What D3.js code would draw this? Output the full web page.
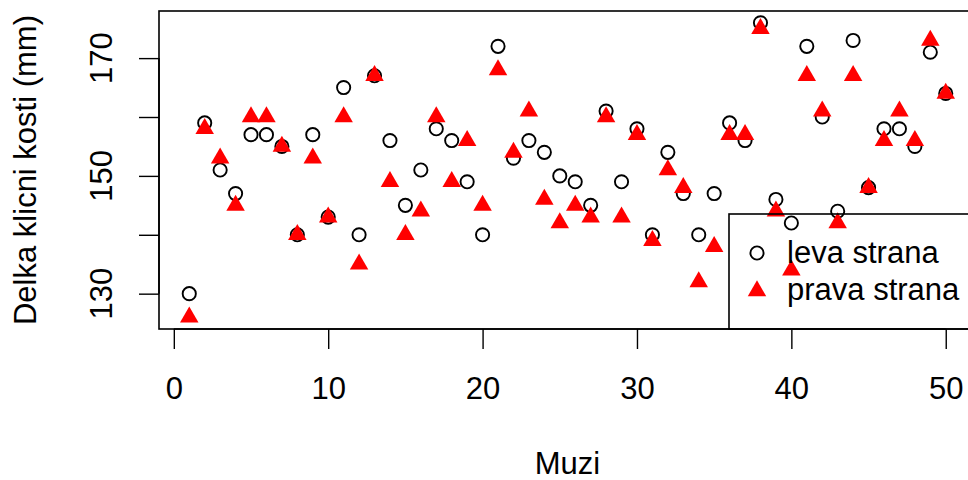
<!DOCTYPE html>
<html>
<head>
    <meta charset="utf-8" />
    <title>Delka klicni kosti</title>
    <script src="https://cdn.jsdelivr.net/npm/d3@7"></script>
    <style>
        body { margin: 0; background: white; }
        svg text { font-family: "Liberation Sans", Arial, sans-serif; font-size: 31px; fill: black; }
    </style>
</head>
<body>
<svg id="chart" width="968" height="480"></svg>
<script>
// data: clavicle length (mm) for 50 men
var muzi = d3.range(1, 51);
var leva = [130,159,151,147,157,157,155,140,157,143,165,140,167,156,145,151,158,156,149,140,
            172,153,156,154,150,149,145,161,149,158,140,154,147,140,147,159,156,176,146,142,
            172,160,144,173,148,158,158,155,171,164];
var prava = [126,158,153,145,160,160,155,140,153,143,160,135,167,149,140,144,160,149,156,145,
             168,154,161,146,142,145,143,160,143,157,139,151,148,132,138,157,157,175,144,134,
             167,161,142,167,148,156,161,156,173,164];
var xTicks = [0, 10, 20, 30, 40, 50];
var yTicks = [130, 140, 150, 160, 170];
var yLabels = [130, 150, 170];
var legendLabels = ["leva strana", "prava strana"];

var svg = d3.select("#chart");
var pLeft = 159, pRight = 976, pTop = 11, pBottom = 329;

// R style 4% padding on the ranges
var x = d3.scaleLinear().domain([1 - 1.96, 50 + 1.96]).range([pLeft, pRight]);
var y = d3.scaleLinear().domain([124, 178]).range([pBottom, pTop]);

// plot box
svg.append("rect")
    .attr("x", pLeft).attr("y", pTop)
    .attr("width", pRight - pLeft).attr("height", pBottom - pTop)
    .attr("fill", "none").attr("stroke", "black").attr("stroke-width", 1.6);

// x axis
var xa = svg.append("g").attr("transform", "translate(0," + pBottom + ")")
    .call(d3.axisBottom(x).tickValues(xTicks).tickSize(20).tickSizeOuter(0).tickFormat(d3.format("d")));
xa.select(".domain").remove();
xa.append("line").attr("x1", x(xTicks[0])).attr("x2", x(xTicks[xTicks.length - 1]))
    .attr("stroke", "black").attr("stroke-width", 1.6);
xa.selectAll(".tick line").attr("stroke-width", 1.4);
xa.selectAll("text").style("font-size", "31px").attr("dy", 0).attr("y", 70);

// y axis
var ya = svg.append("g").attr("transform", "translate(" + pLeft + ",0)")
    .call(d3.axisLeft(y).tickValues(yTicks).tickSize(20).tickSizeOuter(0).tickFormat(""));
ya.select(".domain").remove();
ya.append("line").attr("y1", y(yTicks[0])).attr("y2", y(yTicks[yTicks.length - 1]))
    .attr("stroke", "black").attr("stroke-width", 1.6);
ya.selectAll(".tick line").attr("stroke-width", 1.4);
svg.selectAll(".ylab").data(yLabels).enter().append("text")
    .attr("class", "ylab")
    .attr("transform", function(d) { return "translate(112," + y(d) + ") rotate(-90)"; })
    .attr("text-anchor", "middle")
    .text(function(d) { return d; });

// titles
svg.append("text").attr("x", (pLeft + pRight) / 2).attr("y", 474)
    .attr("text-anchor", "middle").text("Muzi");
svg.append("text")
    .attr("transform", "translate(36," + (pTop + pBottom) / 2 + ") rotate(-90)")
    .attr("text-anchor", "middle").text("Delka klicni kosti (mm)");

// triangle like R pch 17
function tri(cx, cy) {
    var r = 10.67, w = 9.24;
    return "M" + cx + "," + (cy - r) + "L" + (cx + w) + "," + (cy + r / 2) + "L" + (cx - w) + "," + (cy + r / 2) + "Z";
}

svg.selectAll(".leva").data(leva).enter().append("circle")
    .attr("class", "leva")
    .attr("cx", function(d, i) { return x(muzi[i]); })
    .attr("cy", function(d) { return y(d); })
    .attr("r", 6.6)
    .attr("fill", "none").attr("stroke", "black").attr("stroke-width", 1.9);

svg.selectAll(".prava").data(prava).enter().append("path")
    .attr("class", "prava")
    .attr("d", function(d, i) { return tri(x(muzi[i]), y(d)); })
    .attr("fill", "red");

// legend (no background fill)
svg.append("rect").attr("x", 729).attr("y", 214).attr("width", 260).attr("height", pBottom - 214)
    .attr("fill", "none").attr("stroke", "black").attr("stroke-width", 1.6);
svg.append("circle").attr("cx", 757).attr("cy", 253).attr("r", 6.6)
    .attr("fill", "none").attr("stroke", "black").attr("stroke-width", 1.9);
svg.append("path").attr("d", tri(757, 291)).attr("fill", "red");
svg.selectAll(".leg").data(legendLabels).enter().append("text")
    .attr("class", "leg")
    .attr("x", 787)
    .attr("y", function(d, i) { return 263 + i * 37; })
    .text(function(d) { return d; });
</script>
</body>
</html>
